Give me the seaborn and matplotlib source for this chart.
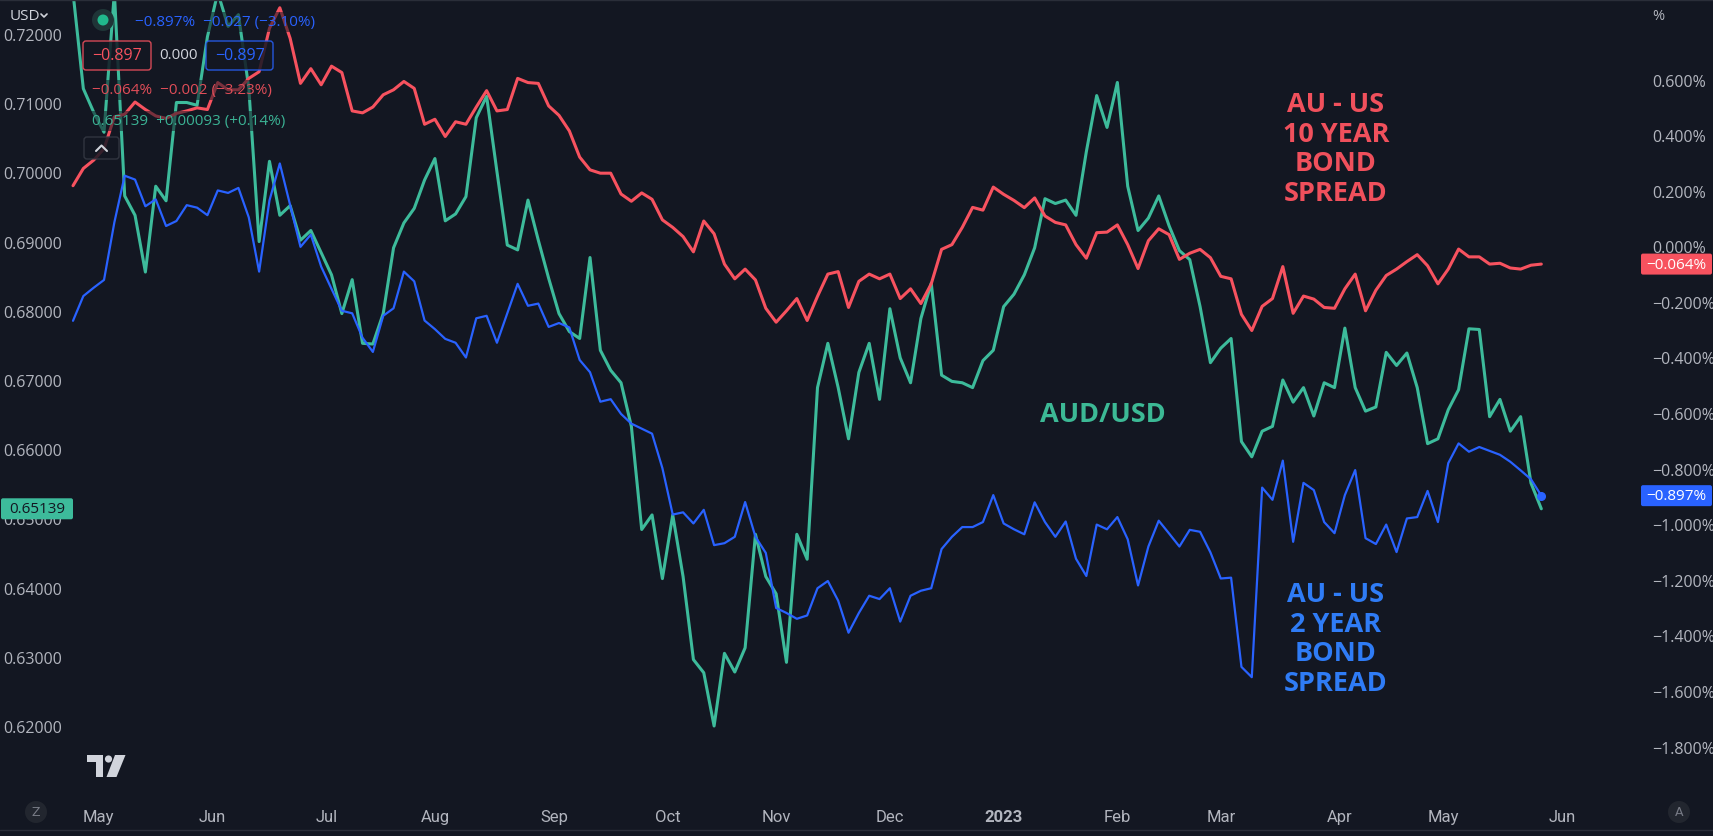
import numpy as np
import pandas as pd
import matplotlib
matplotlib.use("Agg")
import matplotlib.pyplot as plt
import seaborn as sns
from matplotlib.patches import FancyBboxPatch, Circle, Polygon
from matplotlib.transforms import IdentityTransform
from matplotlib.lines import Line2D

# ---------------- data ----------------
start_date = "2022-04-25"
end_date = "2023-05-26"
sample_step = 2  # one reading every 2 trading days

aud_usd = [
    0.7260, 0.7121, 0.7087, 0.7058, 0.7260, 0.6966, 0.6938, 0.6856, 0.6980, 0.6959,
    0.7101, 0.7101, 0.7097, 0.7196, 0.7260, 0.7211, 0.7228, 0.7122, 0.6900, 0.7016,
    0.6938, 0.6952, 0.6902, 0.6916, 0.6884, 0.6852, 0.6796, 0.6845, 0.6753, 0.6752,
    0.6796, 0.6891, 0.6927, 0.6948, 0.6989, 0.7020, 0.6930, 0.6940, 0.6965, 0.7079,
    0.7110, 0.7001, 0.6895, 0.6888, 0.6960, 0.6902, 0.6847, 0.6796, 0.6770, 0.6760,
    0.6877, 0.6743, 0.6714, 0.6696, 0.6633, 0.6484, 0.6505, 0.6413, 0.6505, 0.6416,
    0.6296, 0.6277, 0.6200, 0.6305, 0.6278, 0.6313, 0.6477, 0.6416, 0.6391, 0.6292,
    0.6477, 0.6441, 0.6689, 0.6753, 0.6689, 0.6615, 0.6711, 0.6753, 0.6672, 0.6803,
    0.6732, 0.6696, 0.6789, 0.6840, 0.6707, 0.6698, 0.6696, 0.6689, 0.6728, 0.6743,
    0.6806, 0.6824, 0.6852, 0.6891, 0.6962, 0.6955, 0.6960, 0.6938, 0.7030, 0.7111,
    0.7065, 0.7130, 0.6980, 0.6916, 0.6934, 0.6966, 0.6923, 0.6887, 0.6874, 0.6806,
    0.6725, 0.6746, 0.6760, 0.6611, 0.6589, 0.6626, 0.6633, 0.6700, 0.6668, 0.6689,
    0.6648, 0.6696, 0.6689, 0.6775, 0.6689, 0.6655, 0.6661, 0.6740, 0.6721, 0.6739,
    0.6689, 0.6608, 0.6615, 0.6657, 0.6686, 0.6774, 0.6773, 0.6647, 0.6672, 0.6626,
    0.6647, 0.6551, 0.65139,
]

spread_10y = [
    0.218, 0.280, 0.310, 0.351, 0.466, 0.475, 0.519, 0.492, 0.469, 0.460,
    0.478, 0.487, 0.498, 0.492, 0.589, 0.563, 0.563, 0.604, 0.628, 0.784,
    0.858, 0.748, 0.586, 0.639, 0.581, 0.648, 0.625, 0.487, 0.480, 0.501,
    0.545, 0.563, 0.593, 0.568, 0.439, 0.457, 0.395, 0.448, 0.439, 0.501,
    0.560, 0.487, 0.492, 0.604, 0.589, 0.586, 0.505, 0.471, 0.415, 0.321,
    0.275, 0.263, 0.263, 0.188, 0.162, 0.192, 0.169, 0.095, 0.068, 0.035,
    -0.020, 0.091, 0.045, -0.064, -0.117, -0.082, -0.121, -0.223, -0.273, -0.232,
    -0.188, -0.267, -0.180, -0.100, -0.091, -0.220, -0.126, -0.100, -0.117, -0.100,
    -0.188, -0.153, -0.206, -0.135, -0.011, 0.006, 0.068, 0.140, 0.130, 0.213,
    0.187, 0.165, 0.139, 0.174, 0.109, 0.086, 0.077, 0.006, -0.043, 0.049,
    0.051, 0.077, 0.006, -0.080, 0.020, 0.063, 0.042, -0.047, -0.025, -0.011,
    -0.041, -0.108, -0.117, -0.245, -0.303, -0.216, -0.188, -0.073, -0.241, -0.179,
    -0.190, -0.220, -0.223, -0.153, -0.100, -0.232, -0.158, -0.105, -0.082, -0.055,
    -0.030, -0.070, -0.135, -0.082, -0.010, -0.038, -0.038, -0.064, -0.061, -0.078,
    -0.082, -0.068, -0.064,
]

spread_2y = [
    -0.268, -0.179, -0.149, -0.121, 0.086, 0.254, 0.240, 0.144, 0.169, 0.073,
    0.091, 0.148, 0.139, 0.112, 0.201, 0.192, 0.210, 0.104, -0.091, 0.165,
    0.298, 0.148, -0.002, 0.042, -0.073, -0.153, -0.232, -0.241, -0.329, -0.380,
    -0.250, -0.223, -0.091, -0.126, -0.267, -0.298, -0.333, -0.347, -0.400, -0.259,
    -0.250, -0.347, -0.241, -0.135, -0.214, -0.206, -0.290, -0.276, -0.292, -0.409,
    -0.453, -0.559, -0.550, -0.603, -0.638, -0.656, -0.674, -0.798, -0.965, -0.957,
    -0.997, -0.948, -1.075, -1.068, -1.045, -0.920, -1.045, -1.103, -1.301, -1.319,
    -1.340, -1.328, -1.230, -1.204, -1.275, -1.390, -1.319, -1.257, -1.269, -1.230,
    -1.350, -1.257, -1.239, -1.230, -1.089, -1.045, -1.010, -1.010, -0.992, -0.895,
    -0.997, -1.018, -1.036, -0.921, -0.992, -1.045, -0.990, -1.124, -1.186, -1.001,
    -1.018, -0.974, -1.054, -1.220, -1.080, -0.987, -1.033, -1.080, -1.020, -1.027,
    -1.101, -1.195, -1.192, -1.513, -1.550, -0.868, -0.912, -0.771, -1.063, -0.851,
    -0.877, -0.992, -1.032, -0.895, -0.805, -1.050, -1.071, -1.001, -1.100, -0.979,
    -0.974, -0.880, -0.992, -0.780, -0.709, -0.739, -0.722, -0.736, -0.750, -0.775,
    -0.806, -0.838, -0.897,
]

month_labels = ["May", "Jun", "Jul", "Aug", "Sep", "Oct", "Nov", "Dec",
                "2023", "Feb", "Mar", "Apr", "May", "Jun"]
left_ticks = [0.62, 0.63, 0.64, 0.65, 0.66, 0.67, 0.68, 0.69, 0.70, 0.71, 0.72]
right_ticks = [0.6, 0.4, 0.2, 0.0, -0.2, -0.4, -0.6, -0.8, -1.0, -1.2, -1.4, -1.6, -1.8]

# ---------------- build frame ----------------
trading_days = pd.bdate_range(start_date, end_date)
bars = np.arange(len(trading_days))[::sample_step]
df = pd.DataFrame({"bar": bars, "aud": aud_usd, "s10": spread_10y, "s2": spread_2y})

ext_days = pd.bdate_range(start_date, "2023-06-30")
bar_series = pd.Series(np.arange(len(ext_days)), index=ext_days)
month_pos = bar_series.groupby([ext_days.year, ext_days.month]).first().values[1:]

# ---------------- style ----------------
sns.set_theme(style="dark")
plt.rcParams['font.family'] = ['Open Sans', 'DejaVu Sans']
plt.rcParams['axes.unicode_minus'] = True

BG = "#131722"
RED = "#f7525f"
BLUE = "#2962ff"
GREEN = "#3dbb9b"
TXT = "#b2b5be"
BLUE_TXT = "#2f7cf6"

W, H = 1713, 837
fig = plt.figure(figsize=(W / 100, H / 100), dpi=100, facecolor=BG)
PX = IdentityTransform()


def Y(y):
    return H - y


ax = fig.add_axes([68 / W, 1 - 798 / H, (1638 - 68) / W, (798 - 2) / H])
ax.set_facecolor(BG)
sns.lineplot(data=df, x="bar", y="aud", ax=ax, color=GREEN, linewidth=2.2)

ax2 = ax.twinx()
sns.lineplot(data=df, x="bar", y="s10", ax=ax2, color=RED, linewidth=2.2)
sns.lineplot(data=df, x="bar", y="s2", ax=ax2, color=BLUE, linewidth=1.6)
ax2.plot(df["bar"].iloc[-1], df["s2"].iloc[-1], "o", color=BLUE, ms=5.5)

ax.set_xlim(-0.967, 302.7)
ax.set_ylim(0.60974, 0.724769)
ax2.set_ylim(-1.981, 0.8824)

for a in (ax, ax2):
    a.set_xlabel("")
    a.set_ylabel("")
    for s in a.spines.values():
        s.set_visible(False)
    a.grid(False)

ax.set_xticks(month_pos)
ax.set_xticklabels(month_labels, family=['Liberation Sans Narrow', 'Roboto', 'DejaVu Sans'])
for lbl in ax.get_xticklabels():
    if lbl.get_text() == "2023":
        lbl.set_fontweight("bold")
ax.tick_params(axis='x', length=0, pad=9, labelsize=12, labelcolor=TXT)
ax.set_yticks(left_ticks)
ax.set_yticklabels([f"{v:.5f}" for v in left_ticks])
ax.tick_params(axis='y', length=0, pad=4, labelsize=11.5, labelcolor=TXT)
ax2.set_yticks(right_ticks)
ax2.set_yticklabels([f"{v:.3f}%".replace("-", "\u2212") for v in right_ticks])
ax2.tick_params(axis='y', length=0, pad=10, labelsize=11.5, labelcolor=TXT)

# ---------------- frame lines ----------------
fig.add_artist(Line2D([0, W], [Y(831), Y(831)], transform=PX, color="#2a2e39", lw=1))
fig.add_artist(Line2D([0, W], [Y(1), Y(1)], transform=PX, color="#2a2e39", lw=1))

# ---------------- price boxes ----------------
def price_box(x0, w, yd, text, fc, tc):
    fig.add_artist(FancyBboxPatch((x0, yd - 10.5), w, 21,
                                  boxstyle="round,pad=0,rounding_size=2",
                                  fc=fc, ec="none", transform=PX))
    fig.text(x0 + w / 2, yd, text, transform=PX, ha="center", va="center",
             color=tc, fontsize=11)


y_red = ax2.transData.transform((0, spread_10y[-1]))[1]
y_blue = ax2.transData.transform((0, spread_2y[-1]))[1]
y_green = ax.transData.transform((0, aud_usd[-1]))[1]
price_box(1641, 71, y_red, f"{spread_10y[-1]:.3f}%".replace("-", "\u2212"), RED, "white")
price_box(1641, 71, y_blue, f"{spread_2y[-1]:.3f}%".replace("-", "\u2212"), BLUE, "white")
price_box(1, 72, y_green, f"{aud_usd[-1]:.5f}", GREEN, BG)

# ---------------- top-left legend ----------------
fig.text(10, Y(17), "USD", transform=PX, ha="left", va="center", color="#d1d4dc", fontsize=11)
fig.add_artist(Line2D([41, 44, 47], [Y(15), Y(18), Y(15)], transform=PX, color="#d1d4dc", lw=1.2))
fig.text(1658, Y(17), "%", transform=PX, ha="center", va="center", color=TXT, fontsize=10.5)

fig.add_artist(Circle((103, Y(21)), 11, fc="#1f3537", ec="none", transform=PX))
fig.add_artist(Circle((103, Y(21)), 5.5, fc="#21b88c", ec="none", transform=PX))

leg_bbox = dict(fc=BG, ec="none", alpha=0.55, pad=1.5)
fig.text(135, Y(23), "\u22120.897%  \u22120.027 (\u22123.10%)", transform=PX, ha="left",
         va="center", color=BLUE, fontsize=11, bbox=leg_bbox)

fig.add_artist(FancyBboxPatch((83, Y(71)), 68, 29, boxstyle="round,pad=0,rounding_size=3",
                              fc=BG, ec=RED, lw=1, alpha=0.85, transform=PX))
fig.text(117, Y(56), "\u22120.897", transform=PX, ha="center", va="center", color=RED, fontsize=11.5)
fig.text(178, Y(56), "0.000", transform=PX, ha="center", va="center", color="#d1d4dc",
         fontsize=11, bbox=leg_bbox)
fig.add_artist(FancyBboxPatch((206, Y(71)), 67, 29, boxstyle="round,pad=0,rounding_size=3",
                              fc=BG, ec=BLUE, lw=1, alpha=0.85, transform=PX))
fig.text(240, Y(56), "\u22120.897", transform=PX, ha="center", va="center", color=BLUE, fontsize=11.5)

fig.text(92, Y(91), "\u22120.064%  \u22120.002 (\u22123.23%)", transform=PX, ha="left",
         va="center", color="#e04d58", fontsize=11, bbox=leg_bbox)
fig.text(92, Y(122), "0.65139  +0.00093 (+0.14%)", transform=PX, ha="left",
         va="center", color="#3bb294", fontsize=11, bbox=leg_bbox)

fig.add_artist(FancyBboxPatch((84, Y(160)), 35, 22, boxstyle="round,pad=0,rounding_size=3",
                              fc=BG, ec="#363a45", lw=1, alpha=0.85, transform=PX))
fig.add_artist(Line2D([96, 101.5, 107], [Y(152), Y(146.5), Y(152)], transform=PX,
                      color="#d1d4dc", lw=1.5))

# ---------------- annotations ----------------
ann = dict(transform=PX, ha="center", va="center", fontsize=19.5, fontweight="bold")
for i, line in enumerate(["AU - US", "10 YEAR", "BOND", "SPREAD"]):
    fig.text(1336, Y(105 + 29.7 * i), line, color="#f0505c", **ann)
for i, line in enumerate(["AU - US", "2 YEAR", "BOND", "SPREAD"]):
    fig.text(1336, Y(595 + 29.7 * i), line, color=BLUE_TXT, **ann)
fig.text(1103, Y(415), "AUD/USD", color="#3cb995", **ann)

# ---------------- bottom decorations ----------------
logo_c = "#d1d4dc"
fig.add_artist(Polygon([(87, Y(756)), (103, Y(756)), (103, Y(778)), (96, Y(778)),
                        (96, Y(763)), (87, Y(763))], closed=True, fc=logo_c, ec="none", transform=PX))
fig.add_artist(Circle((108.5, Y(760)), 3.6, fc=logo_c, ec="none", transform=PX))
fig.add_artist(Polygon([(115, Y(756)), (125.5, Y(756)), (116.5, Y(778)), (106.5, Y(778))],
                       closed=True, fc=logo_c, ec="none", transform=PX))

for cx, letter in ((36, "Z"), (1679, "A")):
    fig.add_artist(Circle((cx, Y(813)), 11, fc="#22262f", ec="none", transform=PX))
    fig.text(cx, Y(813), letter, transform=PX, ha="center", va="center", color="#787b86",
             fontsize=9, family=['Liberation Sans Narrow', 'DejaVu Sans'])

fig.savefig("out.png", dpi=100, facecolor=BG)
